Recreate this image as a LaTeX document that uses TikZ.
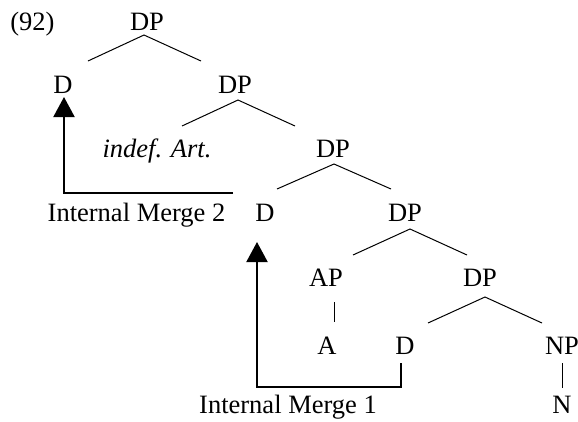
\documentclass[tikz,border=0pt]{standalone}
\usepackage{fontspec}
\setmainfont{Liberation Serif}
\usetikzlibrary{arrows.meta}
\tikzset{
  lbl/.style={anchor=base, inner sep=0pt, font=\fontsize{26.5}{29}\selectfont},
  branch/.style={line width=1pt},
  move/.style={line width=2pt, -{Triangle[width=21pt,length=20pt]}}
}
\begin{document}
\begin{tikzpicture}[x=1pt,y=-1pt]
\useasboundingbox (0,0) rectangle (578,421);
% labels
\node[lbl] (ex) at (32.5,30.5) {(92)};
\node[lbl] (dp1) at (147,30.5) {DP};
\node[lbl] (d2) at (63,93.5) {D};
\node[lbl] (dp2) at (235,93.5) {DP};
\node[lbl] (art) at (157,157) {\itshape indef. Art.};
\node[lbl] (dp3) at (333,157) {DP};
\node[lbl] (im2) at (136.5,221) {Internal Merge 2};
\node[lbl] (d4) at (265,221) {D};
\node[lbl] (dp4) at (405,221) {DP};
\node[lbl] (ap) at (326,286.5) {AP};
\node[lbl] (dp5) at (480,286.5) {DP};
\node[lbl] (a) at (327,354) {A};
\node[lbl] (d6) at (405,354) {D};
\node[lbl] (np) at (562,354) {NP};
\node[lbl] (n) at (562,413) {N};
\node[lbl] (im1) at (288,413) {Internal Merge 1};
% branch points
\coordinate (t1) at (144,35);  \coordinate (l1) at (88,61);  \coordinate (r1) at (201,61);
\coordinate (t2) at (238,100); \coordinate (l2) at (182,126); \coordinate (r2) at (295,126);
\coordinate (t3) at (334,164); \coordinate (l3) at (277,189); \coordinate (r3) at (391,189);
\coordinate (t4) at (410,229); \coordinate (l4) at (353,255); \coordinate (r4) at (467,255);
\coordinate (t5) at (485,297); \coordinate (l5) at (428,323); \coordinate (r5) at (542,323);
\draw[branch] (l1) -- (t1) -- (r1);
\draw[branch] (l2) -- (t2) -- (r2);
\draw[branch] (l3) -- (t3) -- (r3);
\draw[branch] (l4) -- (t4) -- (r4);
\draw[branch] (l5) -- (t5) -- (r5);
\coordinate (apb) at (334,302); \coordinate (ae) at (334,322);
\draw[branch] (apb) -- (ae);
\coordinate (npb) at (562,363); \coordinate (ne) at (562,388);
\draw[branch] (npb) -- (ne);
% movement arrows
\coordinate (m2s) at (233,193);
\coordinate (m2t) at (64,97);
\draw[move] (m2s) -- (m2t |- m2s) -- (m2t);
\coordinate (m1s) at (401,363);
\coordinate (m1c) at (401,387);
\coordinate (m1t) at (257,242);
\draw[move] (m1s) -- (m1c) -- (m1t |- m1c) -- (m1t);
\end{tikzpicture}
\end{document}
